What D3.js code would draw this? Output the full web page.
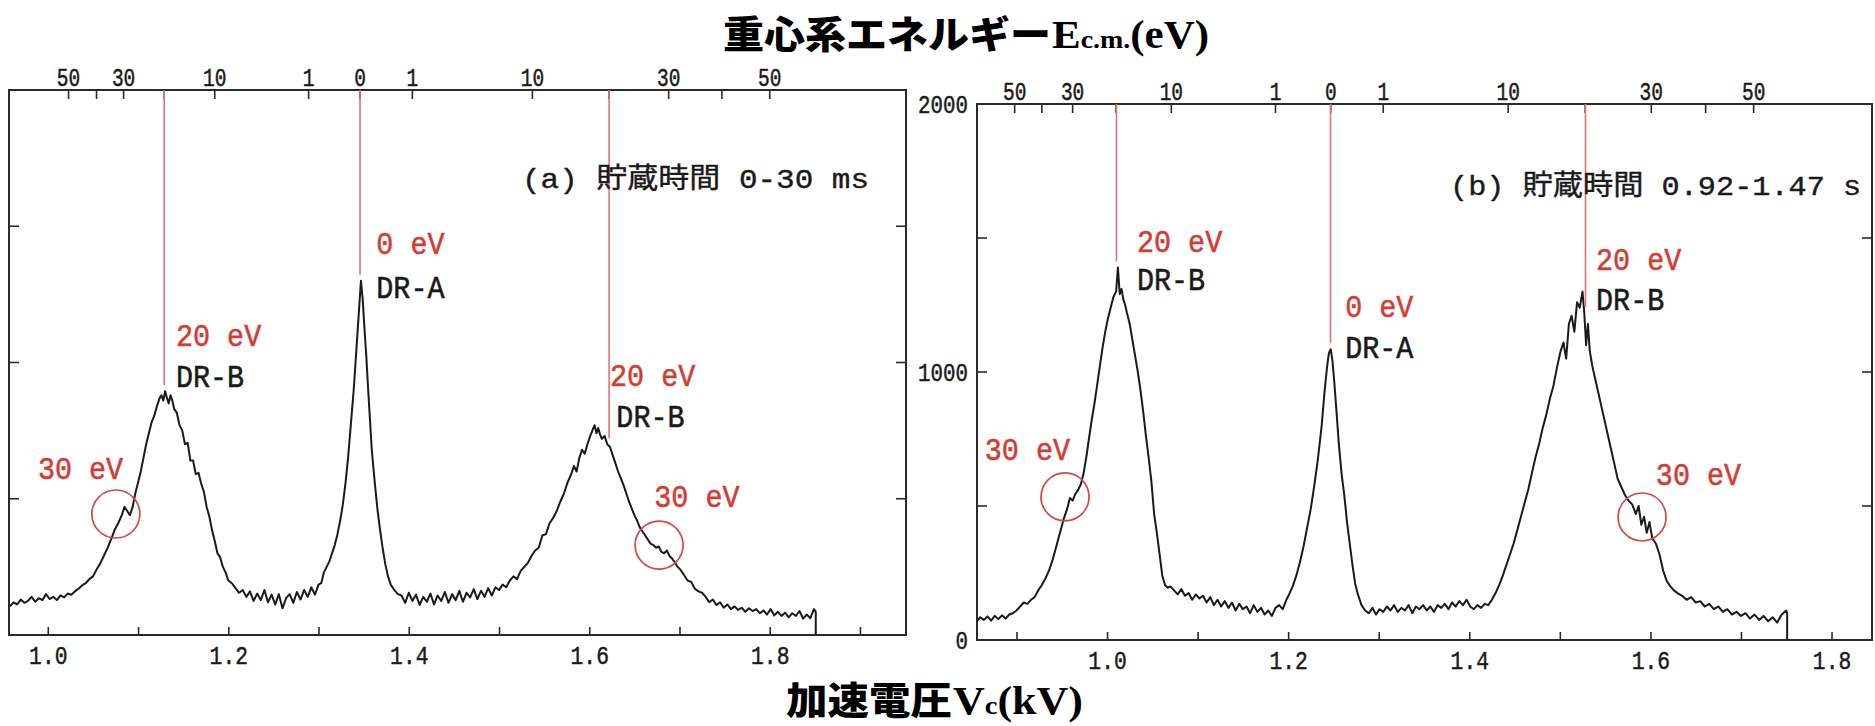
<!DOCTYPE html>
<html><head><meta charset="utf-8">
<script src="https://cdn.jsdelivr.net/npm/d3@7"></script>
<style>
body{margin:0;background:#fff}
svg{display:block}
.mono{font-family:"Liberation Mono","DejaVu Sans Mono",monospace}
</style>
</head><body>
<svg id="c" width="1875" height="726"></svg>
<script>
// ---------------- DATA ----------------
// Panel (a): storage time 0-30 ms. Accelerating voltage Vc (kV) vs counts (unlabelled axis)
const aVolt = [0.958,0.962,0.966,0.970,0.974,0.978,0.982,0.986,0.990,0.994,0.998,1.002,1.006,1.010,1.014,1.018,1.022,1.026,1.030,1.034,1.038,1.042,1.046,1.050,1.054,1.058,1.062,1.066,1.070,1.074,1.078,1.082,1.085,1.088,1.091,1.094,1.097,1.100,1.103,1.106,1.109,1.112,1.115,1.118,1.121,1.124,1.126,1.128,1.130,1.132,1.134,1.136,1.138,1.140,1.143,1.146,1.149,1.152,1.155,1.158,1.161,1.164,1.167,1.170,1.173,1.176,1.179,1.182,1.185,1.188,1.191,1.194,1.197,1.200,1.204,1.208,1.212,1.216,1.220,1.224,1.228,1.232,1.236,1.240,1.244,1.248,1.252,1.256,1.260,1.264,1.268,1.272,1.276,1.280,1.284,1.288,1.292,1.296,1.300,1.303,1.306,1.309,1.312,1.315,1.318,1.321,1.324,1.327,1.330,1.333,1.336,1.339,1.342,1.344,1.346,1.347,1.349,1.351,1.353,1.355,1.357,1.359,1.362,1.365,1.368,1.371,1.374,1.377,1.380,1.384,1.388,1.392,1.396,1.400,1.404,1.408,1.412,1.416,1.420,1.424,1.428,1.432,1.436,1.440,1.444,1.448,1.452,1.456,1.460,1.464,1.468,1.472,1.476,1.480,1.484,1.488,1.492,1.496,1.500,1.504,1.508,1.512,1.516,1.520,1.524,1.528,1.532,1.536,1.540,1.544,1.548,1.552,1.556,1.560,1.564,1.568,1.572,1.576,1.580,1.583,1.586,1.589,1.592,1.595,1.598,1.601,1.604,1.606,1.608,1.610,1.612,1.614,1.617,1.620,1.623,1.626,1.629,1.632,1.635,1.638,1.641,1.644,1.647,1.650,1.653,1.656,1.659,1.662,1.665,1.668,1.671,1.674,1.677,1.680,1.683,1.686,1.689,1.692,1.695,1.698,1.701,1.705,1.709,1.713,1.717,1.721,1.725,1.729,1.733,1.737,1.741,1.745,1.749,1.753,1.757,1.761,1.765,1.769,1.773,1.777,1.781,1.785,1.789,1.793,1.797,1.801,1.805,1.809,1.813,1.817,1.821,1.825,1.829,1.833,1.837,1.841,1.845,1.849,1.851,1.851];
const aCount = [105,120,112,130,118,125,140,122,135,128,150,132,140,128,145,138,152,148,160,170,182,190,205,215,240,262,290,318,350,385,410,440,470,455,440,470,520,560,600,650,700,740,780,805,840,870,880,860,895,870,850,880,860,830,815,770,750,700,705,640,640,590,595,555,525,470,435,385,345,300,285,250,230,200,190,172,155,165,140,160,125,152,128,165,120,148,112,150,98,135,150,118,158,130,165,140,175,148,185,190,230,250,270,300,330,370,420,480,560,660,780,900,1050,1150,1250,1300,1230,1120,1020,900,790,680,570,470,390,320,260,215,185,165,150,145,118,155,125,148,110,140,122,152,112,145,125,158,118,150,128,162,122,155,138,168,132,162,140,172,145,175,165,185,175,200,215,205,235,250,265,290,310,320,365,370,410,430,455,490,520,560,590,620,600,650,680,665,700,730,755,770,740,760,735,720,730,700,690,660,630,600,575,550,520,490,465,440,420,395,380,365,350,335,330,320,325,305,300,310,290,280,265,250,240,220,200,195,170,160,155,140,120,130,110,120,100,112,95,105,92,100,85,98,88,95,80,90,75,95,72,85,70,82,65,80,70,88,60,75,62,95,85,0];

// Panel (b): storage time 0.92-1.47 s
const bVolt = [0.856,0.860,0.864,0.868,0.872,0.876,0.880,0.884,0.888,0.892,0.896,0.900,0.904,0.908,0.912,0.916,0.920,0.924,0.928,0.932,0.936,0.940,0.944,0.948,0.952,0.956,0.959,0.962,0.965,0.968,0.971,0.974,0.977,0.980,0.983,0.986,0.989,0.992,0.995,0.998,1.001,1.004,1.007,1.010,1.012,1.014,1.016,1.018,1.020,1.022,1.025,1.028,1.031,1.034,1.037,1.040,1.043,1.046,1.049,1.052,1.055,1.058,1.061,1.064,1.067,1.070,1.074,1.078,1.082,1.086,1.090,1.094,1.098,1.102,1.106,1.110,1.114,1.118,1.122,1.126,1.130,1.134,1.138,1.142,1.146,1.150,1.154,1.158,1.162,1.166,1.170,1.174,1.178,1.182,1.186,1.190,1.194,1.198,1.201,1.205,1.209,1.213,1.217,1.221,1.225,1.229,1.233,1.237,1.240,1.243,1.245,1.247,1.249,1.251,1.253,1.256,1.259,1.262,1.265,1.268,1.271,1.274,1.277,1.281,1.285,1.289,1.293,1.297,1.301,1.305,1.309,1.313,1.317,1.321,1.325,1.329,1.333,1.337,1.341,1.345,1.349,1.353,1.357,1.361,1.365,1.369,1.373,1.377,1.381,1.385,1.389,1.393,1.397,1.401,1.405,1.409,1.413,1.417,1.421,1.425,1.429,1.433,1.437,1.441,1.445,1.449,1.453,1.457,1.461,1.465,1.469,1.473,1.477,1.481,1.485,1.489,1.493,1.497,1.501,1.504,1.507,1.510,1.513,1.516,1.519,1.522,1.525,1.527,1.529,1.531,1.533,1.536,1.540,1.544,1.548,1.552,1.556,1.560,1.564,1.568,1.572,1.576,1.580,1.584,1.587,1.590,1.593,1.596,1.599,1.602,1.606,1.610,1.614,1.618,1.622,1.626,1.630,1.635,1.640,1.645,1.650,1.655,1.660,1.665,1.670,1.675,1.680,1.685,1.690,1.695,1.700,1.705,1.710,1.715,1.720,1.725,1.730,1.735,1.740,1.745,1.750,1.751,1.751];
const bCount = [70,85,75,88,72,90,78,92,80,95,100,110,125,140,135,150,160,185,205,230,260,300,350,400,450,490,530,520,545,560,580,620,680,750,820,880,950,1020,1090,1150,1200,1240,1280,1300,1390,1290,1310,1270,1250,1220,1180,1120,1060,1000,930,850,760,680,590,470,400,320,240,205,195,200,185,170,190,165,175,150,170,155,165,140,160,130,150,125,145,120,140,110,135,115,125,100,130,105,120,95,110,90,120,130,115,150,170,200,240,290,350,420,490,580,680,800,920,1020,1070,1085,1040,960,870,730,620,540,440,360,280,210,170,130,110,100,120,95,115,105,125,110,130,105,120,110,130,100,125,115,130,110,125,105,130,120,135,115,140,125,145,130,150,125,115,130,120,135,130,150,175,205,240,280,320,360,410,460,510,560,620,680,730,790,840,900,950,1020,1080,1110,1050,1180,1210,1150,1260,1240,1300,1220,1100,1180,1080,1020,960,900,840,780,720,660,600,570,540,520,505,470,500,430,460,400,440,380,360,320,260,220,200,185,175,165,150,160,140,145,125,135,115,125,105,115,95,105,90,100,80,95,75,90,70,85,65,95,110,100,0];

// Top axis: centre-of-mass energy Ecm (eV) ticks, positions in Vc (kV)
const topTickEnergy = [50,40,30,20,10,1,0,1,10,20,30,40,50];
const topTickShown  = ["50","","30","","10","1","0","1","10","","30","","50"];
const aTopTickVolt = [1.023,1.054,1.084,1.129,1.185,1.289,1.346,1.404,1.537,1.622,1.688,1.747,1.800];
const bTopTickVolt = [0.898,0.928,0.962,1.010,1.071,1.186,1.247,1.305,1.443,1.528,1.601,1.661,1.714];

// Bottom axis ticks (kV)
const aBottomTicks = [1.0,1.1,1.2,1.3,1.4,1.5,1.6,1.7,1.8,1.9];
const bBottomTicks = [0.9,1.0,1.1,1.2,1.3,1.4,1.5,1.6,1.7,1.8];
const bottomLabelled = [1.0,1.2,1.4,1.6,1.8];
// y ticks (counts)
const yTicks = [0,500,1000,1500,2000];
const bYLabels = ["0","","1000","","2000"];

// Resonance markers (kV): 20 eV DR-B, 0 eV DR-A, 20 eV DR-B
const aMarkVolt = [1.129,1.346,1.622];
const bMarkVolt = [1.0104,1.2468,1.5283];

// Annotations: text, colour kind, anchor (kV, counts)
const aNoteText = ["20 eV","DR-B","0 eV","DR-A","20 eV","DR-B","30 eV","30 eV"];
const aNoteKind = ["r","k","r","k","r","k","r","r"];
const aNoteVolt = [1.142,1.142,1.364,1.364,1.623,1.630,0.989,1.672];
const aNoteCount = [1062,911,1400,1237,915,763,572,470];
const bNoteText = ["20 eV","DR-B","0 eV","DR-A","20 eV","DR-B","30 eV","30 eV"];
const bNoteKind = ["r","k","r","k","r","k","r","r"];
const bNoteVolt = [1.033,1.033,1.263,1.263,1.540,1.540,0.865,1.606];
const bNoteCount = [1448,1306,1205,1052,1381,1231,672,578];

// 30 eV circles (kV, counts)
const aCircleVolt = [1.0754,1.6774];
const aCircleCount = [444,330];
const bCircleVolt = [0.9536,1.5908];
const bCircleCount = [534,459];

// Captions
const aCaption = "(a) 貯蔵時間 0-30 ms";
const bCaption = "(b) 貯蔵時間 0.92-1.47 s";
const aCaptionAt = [1.5255, 1640];
const bCaptionAt = [1.3788, 1660];

// ---------------- DRAW ----------------
const svg = d3.select("#c");
const RED = "#d23c33", REDLINE = "#e07272", CIRC = "#d04a46", INK = "#1a1a1a";

function txt(g, x, y, s, o) {
  o = o || {};
  const fill = o.fill || INK;
  return g.append("text")
    .attr("class", "mono")
    .attr("transform", `translate(${x},${y}) scale(${o.sx||1},${o.sy||1})`)
    .attr("text-anchor", o.anchor || "start")
    .attr("font-size", o.size || 29)
    .attr("fill", fill)
    .attr("stroke", fill).attr("stroke-width", o.sw == null ? 0.5 : o.sw)
    .text(s);
}

function panel(cfg) {
  const g = svg.append("g");
  const x = d3.scaleLinear().domain(cfg.xDomain).range([cfg.left, cfg.right]);
  const y = d3.scaleLinear().domain([0, 2000]).range([cfg.bottom, cfg.top]);

  // frame
  g.append("rect").attr("x", cfg.left).attr("y", cfg.top)
    .attr("width", cfg.right - cfg.left).attr("height", cfg.bottom - cfg.top)
    .attr("fill", "none").attr("stroke", "#2a2a2a").attr("stroke-width", 2);

  // bottom axis
  const bAx = d3.axisBottom(x).tickValues(cfg.bottomTicks).tickSize(-8).tickSizeOuter(0)
    .tickFormat(d => bottomLabelled.some(v => Math.abs(v - d) < 1e-6) ? d.toFixed(1) : "");
  const gb = g.append("g").attr("transform", `translate(0,${cfg.bottom})`).call(bAx);
  gb.select(".domain").remove();
  gb.selectAll(".tick line").attr("stroke", "#2a2a2a").attr("stroke-width", 1.6);
  gb.selectAll(".tick text").attr("class", "mono").attr("font-size", 26).attr("fill", INK)
    .attr("stroke", INK).attr("stroke-width", 0.5)
    .attr("y", 0).attr("dy", 0).attr("transform", "translate(0,29) scale(0.82,1)");

  // top axis (Ecm)
  const gt = g.append("g");
  cfg.topVolt.forEach((v, i) => {
    const px = x(v);
    gt.append("line").attr("x1", px).attr("x2", px).attr("y1", cfg.top).attr("y2", cfg.top + 9)
      .attr("stroke", "#2a2a2a").attr("stroke-width", 1.6);
    if (topTickShown[i]) txt(gt, px, cfg.top - 4, topTickShown[i], {anchor: "middle", size: 25, sx: 0.78});
  });

  // y ticks left & right (inward)
  yTicks.forEach((t, i) => {
    if (t !== 0 && t !== 2000) {
      g.append("line").attr("x1", cfg.left).attr("x2", cfg.left + 10).attr("y1", y(t)).attr("y2", y(t))
        .attr("stroke", "#2a2a2a").attr("stroke-width", 1.6);
      g.append("line").attr("x1", cfg.right).attr("x2", cfg.right - 10).attr("y1", y(t)).attr("y2", y(t))
        .attr("stroke", "#2a2a2a").attr("stroke-width", 1.6);
    }
    if (cfg.yLabels && cfg.yLabels[i]) {
      txt(g, cfg.left - 9, y(t) + 9, cfg.yLabels[i], {anchor: "end", size: 26, sx: 0.8});
    }
  });

  // curve
  const pts = cfg.volt.map((v, i) => [v, cfg.count[i]]);
  const line = d3.line().x(d => x(d[0])).y(d => y(d[1]));
  g.append("path").datum(pts).attr("d", line).attr("fill", "none")
    .attr("stroke", INK).attr("stroke-width", 2).attr("stroke-linejoin", "round");

  // red marker lines (to the curve top near each resonance)
  cfg.marks.forEach(v => {
    const near = pts.filter(p => Math.abs(p[0] - v) <= 0.003);
    const top = d3.max(near, p => p[1]);
    g.append("line").attr("x1", x(v)).attr("x2", x(v)).attr("y1", cfg.top).attr("y2", y(top) - 6)
      .attr("stroke", REDLINE).attr("stroke-width", 1.6);
  });

  // circles
  cfg.circV.forEach((v, i) => {
    g.append("circle").attr("cx", x(v)).attr("cy", y(cfg.circC[i])).attr("r", 24)
      .attr("fill", "none").attr("stroke", CIRC).attr("stroke-width", 1.7);
  });

  // annotations
  cfg.noteText.forEach((s, i) => {
    txt(g, x(cfg.noteVolt[i]), y(cfg.noteCount[i]), s,
      {size: 29, sx: 0.98, sy: 1.1, fill: cfg.noteKind[i] === "r" ? RED : INK});
  });

  // caption
  g.append("text").attr("x", x(cfg.capAt[0])).attr("y", y(cfg.capAt[1]))
    .attr("font-family", "'Liberation Mono','Noto Sans CJK JP',monospace")
    .attr("font-size", 28).attr("fill", INK).attr("stroke", INK).attr("stroke-width", 0.4)
    .attr("textLength", cfg.capLen).attr("lengthAdjust", "spacingAndGlyphs")
    .text(cfg.caption);
}

panel({left: 9, right: 906, top: 90, bottom: 635, xDomain: [0.957, 1.951],
  bottomTicks: aBottomTicks, topVolt: aTopTickVolt, volt: aVolt, count: aCount,
  marks: aMarkVolt, circV: aCircleVolt, circC: aCircleCount,
  noteText: aNoteText, noteKind: aNoteKind, noteVolt: aNoteVolt, noteCount: aNoteCount,
  caption: aCaption, capAt: aCaptionAt, capLen: 347, yLabels: null});

panel({left: 977, right: 1872, top: 104, bottom: 640, xDomain: [0.8564, 1.8447],
  bottomTicks: bBottomTicks, topVolt: bTopTickVolt, volt: bVolt, count: bCount,
  marks: bMarkVolt, circV: bCircleVolt, circC: bCircleCount,
  noteText: bNoteText, noteKind: bNoteKind, noteVolt: bNoteVolt, noteCount: bNoteCount,
  caption: bCaption, capAt: bCaptionAt, capLen: 411, yLabels: bYLabels});

// Titles
const t1 = svg.append("g");
t1.append("text").attr("x", 723).attr("y", 48)
  .attr("font-family", "'Noto Sans CJK JP'").attr("font-weight", 900).attr("font-size", 38)
  .attr("textLength", 328).attr("lengthAdjust", "spacingAndGlyphs").attr("fill", "#000")
  .text("重心系エネルギー");
const s1 = t1.append("text").attr("x", 1052).attr("y", 48)
  .attr("font-family", "'Liberation Serif'").attr("font-weight", "bold").attr("fill", "#000")
  .attr("textLength", 157).attr("lengthAdjust", "spacingAndGlyphs");
s1.append("tspan").attr("font-size", 40).text("E");
s1.append("tspan").attr("font-size", 26).text("c.m.");
s1.append("tspan").attr("font-size", 40).text("(eV)");

const t2 = svg.append("g");
t2.append("text").attr("x", 786).attr("y", 714)
  .attr("font-family", "'Noto Sans CJK JP'").attr("font-weight", 900).attr("font-size", 38)
  .attr("textLength", 166).attr("lengthAdjust", "spacingAndGlyphs").attr("fill", "#000")
  .text("加速電圧");
const s2 = t2.append("text").attr("x", 953).attr("y", 714)
  .attr("font-family", "'Liberation Serif'").attr("font-weight", "bold").attr("fill", "#000")
  .attr("textLength", 130).attr("lengthAdjust", "spacingAndGlyphs");
s2.append("tspan").attr("font-size", 40).text("V");
s2.append("tspan").attr("font-size", 26).text("c");
s2.append("tspan").attr("font-size", 40).text("(kV)");
</script>
</body></html>
